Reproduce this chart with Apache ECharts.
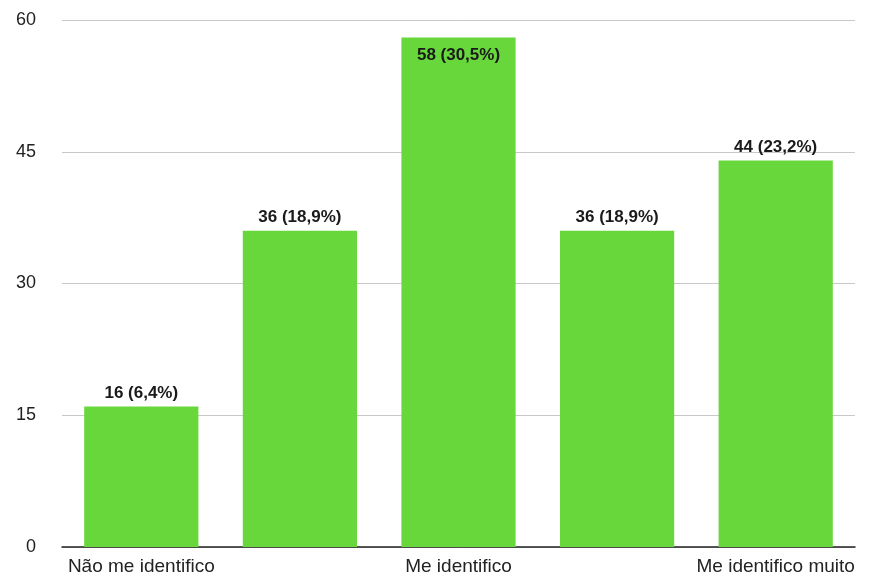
<!DOCTYPE html>
<html>
<head>
<meta charset="utf-8">
<script src="https://cdn.jsdelivr.net/npm/echarts@6/dist/echarts.min.js"></script>
<style>
  html, body { margin: 0; padding: 0; background: #fff; }
  #chart { width: 869px; height: 579px; }
</style>
</head>
<body>
<div id="chart"></div>
<script>
// Response scale: only the ends and the middle are named
const categories = ['Não me identifico', '', 'Me identifico', '', 'Me identifico muito'];
const counts = [16, 36, 58, 36, 44];
const percentLabels = ['6,4%', '18,9%', '30,5%', '18,9%', '23,2%'];
const yTicks = [0, 15, 30, 45, 60];

const FONT = '"Liberation Sans", Arial, Helvetica, sans-serif';
const chart = echarts.init(document.getElementById('chart'));

const barData = counts.map((v, i) => {
  const item = { value: v };
  // the tallest bar carries its label inside the top edge
  if (v === Math.max(...counts)) {
    item.label = { position: 'insideTop', distance: 9 };
  }
  return item;
});

chart.setOption({
  animation: false,
  grid: { left: 62, right: 14, top: 20, bottom: 32, containLabel: false },
  xAxis: {
    type: 'category',
    data: categories,
    axisTick: { show: false },
    axisLine: { show: true, lineStyle: { color: '#222', width: 1.5 } },
    axisLabel: {
      interval: 0,
      margin: 10,
      color: '#222',
      fontFamily: FONT,
      fontSize: 19
    }
  },
  yAxis: {
    type: 'value',
    min: yTicks[0],
    max: yTicks[yTicks.length - 1],
    interval: yTicks[1] - yTicks[0],
    axisLine: { show: false },
    axisTick: { show: false },
    splitLine: { lineStyle: { color: '#c8c8c8', width: 1 } },
    axisLabel: {
      margin: 26,
      color: '#222',
      fontFamily: FONT,
      fontSize: 18
    }
  },
  series: [{
    type: 'bar',
    data: barData,
    barCategoryGap: '28%',
    itemStyle: { color: '#67d73b' },
    label: {
      show: true,
      position: 'top',
      distance: 5,
      color: '#1a1a1a',
      fontFamily: FONT,
      fontWeight: 'bold',
      fontSize: 17,
      formatter: p => p.value + ' (' + percentLabels[p.dataIndex] + ')'
    }
  }]
});
</script>
</body>
</html>
